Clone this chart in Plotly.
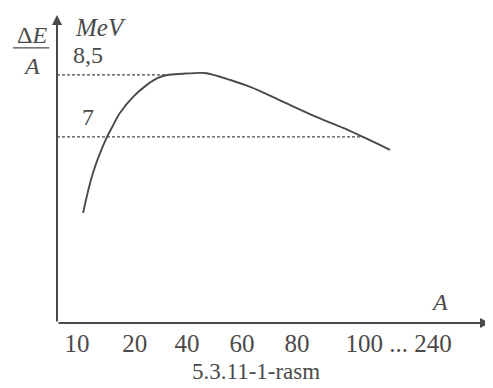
import plotly.graph_objects as go

# x positions are "slots" along the schematic A axis (uneven labels)
tick_pos = [1, 2.05, 3, 4, 5, 6.85]
tick_text = ['10', '20', '40', '60', '80', '100 ... 240']

# binding energy per nucleon curve
curve_x = [1.11, 1.29, 1.545, 1.64, 1.78, 2.02, 2.27, 2.47, 2.64, 2.93, 3.24, 3.36,
           3.78, 4.15, 4.75, 5.36, 5.84, 6.2, 6.69]
curve_y = [5.16, 6.13, 7.0, 7.24, 7.58, 7.97, 8.26, 8.43, 8.5, 8.53, 8.55, 8.54,
           8.38, 8.21, 7.85, 7.48, 7.22, 7.0, 6.69]

levels = [8.5, 7]
level_text = ['8,5', '7']
level_end = [2.62, 6.2]

x_min, x_max = 0.636, 8.51
y_min, y_max = 2.5, 9.95

ink = '#4a4a4a'
serif = 'Liberation Serif, Times New Roman, serif'

fig = go.Figure()

for lv, end in zip(levels, level_end):
    fig.add_trace(go.Scatter(x=[x_min, end], y=[lv, lv], mode='lines',
                             line=dict(color=ink, width=1.3, dash='3px,2px'),
                             hoverinfo='skip'))

fig.add_trace(go.Scatter(x=curve_x, y=curve_y, mode='lines', line_shape='spline',
                         line=dict(color=ink, width=1.9), hoverinfo='skip'))

# axes drawn as arrows
fig.add_annotation(x=x_max, y=y_min, ax=x_min, ay=y_min, xref='x', yref='y',
                   axref='x', ayref='y', text='', showarrow=True,
                   arrowhead=2, arrowsize=1, arrowwidth=2, arrowcolor=ink)
fig.add_annotation(x=x_min, y=y_max, ax=x_min, ay=y_min, xref='x', yref='y',
                   axref='x', ayref='y', text='', showarrow=True,
                   arrowhead=2, arrowsize=1, arrowwidth=2, arrowcolor=ink)

for lv, txt in zip(levels, level_text):
    fig.add_annotation(x=1.2, y=lv, text=txt, showarrow=False, yanchor='middle',
                       yshift=20, font=dict(family=serif, size=24, color=ink))

fig.add_annotation(x=1.42, y=y_max, text='<i>MeV</i>', showarrow=False,
                   xanchor='center', yanchor='middle', yshift=-12,
                   font=dict(family=serif, size=25, color=ink))

# fraction label left of the y axis
fig.add_annotation(x=-0.058, y=0.935, xref='paper', yref='paper', showarrow=False,
                   xanchor='center', yanchor='middle',
                   text='Δ<i>E</i>', font=dict(family=serif, size=24, color=ink))
fig.add_annotation(x=-0.058, y=0.835, xref='paper', yref='paper', showarrow=False,
                   xanchor='center', yanchor='middle',
                   text='<i>A</i>', font=dict(family=serif, size=24, color=ink))
fig.add_shape(type='line', xref='paper', yref='paper', x0=-0.102, x1=-0.018,
              y0=0.893, y1=0.893, line=dict(color=ink, width=1.2))

fig.add_annotation(x=7.6, y=y_min, text='<i>A</i>', showarrow=False,
                   xanchor='center', yanchor='middle', yshift=21,
                   font=dict(family=serif, size=24, color=ink))
fig.add_annotation(x=0.46, y=-0.159, xref='paper', yref='paper', showarrow=False,
                   xanchor='center', yanchor='middle', text='5.3.11-1-rasm',
                   borderpad=0, font=dict(family=serif, size=23, color=ink))

fig.update_xaxes(range=[x_min, x_max], tickvals=tick_pos, ticktext=tick_text,
                 showgrid=False, zeroline=False, showline=False, ticks='',
                 ticklabelstandoff=3,
                 tickfont=dict(family=serif, size=25, color=ink))
fig.update_yaxes(range=[y_min, y_max], showgrid=False, zeroline=False,
                 showline=False, showticklabels=False, ticks='')

# page body has an 8px margin, so the figure is sized to fit what is left
fig.update_layout(width=485, height=380, showlegend=False,
                  margin=dict(l=49, r=3, t=7, b=65),
                  plot_bgcolor='white', paper_bgcolor='white')

fig.write_html("out.html")
